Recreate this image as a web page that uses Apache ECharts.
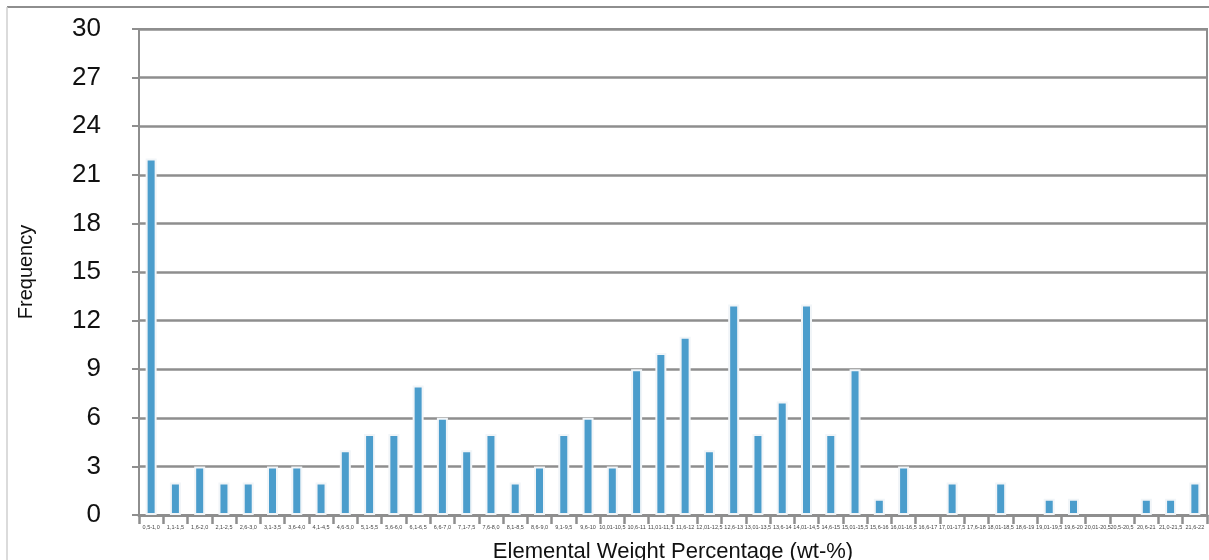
<!DOCTYPE html>
<html>
<head>
<meta charset="utf-8">
<script src="https://cdn.jsdelivr.net/npm/echarts@6/dist/echarts.min.js"></script>
<style>
  html, body { margin: 0; padding: 0; background: #ffffff; }
  #chart { width: 1209px; height: 560px; }
</style>
</head>
<body>
<div id="chart"></div>
<script>
// Weight-percentage bins (comma decimal notation)
const binLabels = [
  '0,5-1,0', '1,1-1,5', '1,6-2,0', '2,1-2,5', '2,6-3,0', '3,1-3,5', '3,6-4,0', '4,1-4,5',
  '4,6-5,0', '5,1-5,5', '5,6-6,0', '6,1-6,5', '6,6-7,0', '7,1-7,5', '7,6-8,0', '8,1-8,5',
  '8,6-9,0', '9,1-9,5', '9,6-10', '10,01-10,5', '10,6-11', '11,01-11,5', '11,6-12', '12,01-12,5',
  '12,6-13', '13,01-13,5', '13,6-14', '14,01-14,5', '14,6-15', '15,01-15,5', '15,6-16', '16,01-16,5',
  '16,6-17', '17,01-17,5', '17,6-18', '18,01-18,5', '18,6-19', '19,01-19,5', '19,6-20', '20,01-20,5',
  '20,5-20,5', '20,6-21', '21,0-21,5', '21,6-22'
];

// Number of samples in each bin
const frequency = [
  22, 2, 3, 2, 2, 3, 3, 2,
  4, 5, 5, 8, 6, 4, 5, 2,
  3, 5, 6, 3, 9, 10, 11, 4,
  13, 5, 7, 13, 5, 9, 1, 3,
  0, 2, 0, 2, 0, 1, 1, 0,
  0, 1, 1, 2
];

// Frequency axis
const yMin = 0;
const yMax = 30;
const yStep = 3;

const gridGray = '#8e8e8e';
const font = '"Liberation Sans", Arial, Helvetica, sans-serif';

// Empty bins get no outline so nothing shows on the baseline
const barData = frequency.map(v => v === 0
  ? { value: v, itemStyle: { borderWidth: 0, opacity: 0 } }
  : v);

const chart = echarts.init(document.getElementById('chart'), null, { renderer: 'canvas' });

chart.setOption({
  animation: false,
  backgroundColor: '#ffffff',
  graphic: [
    // outer frame
    { type: 'line', shape: { x1: 7, y1: 7, x2: 1209, y2: 7 }, style: { stroke: '#8e8e8e', lineWidth: 2 }, silent: true },
    { type: 'line', shape: { x1: 7, y1: 7, x2: 7, y2: 560 }, style: { stroke: '#cfcfcf', lineWidth: 1.5 }, silent: true }
  ],
  grid: {
    left: 139,
    right: 2,
    top: 29,
    bottom: 45,
    show: true,
    borderColor: gridGray,
    borderWidth: 2,
    containLabel: false,
    outerBoundsMode: 'none'
  },
  xAxis: {
    type: 'category',
    data: binLabels,
    boundaryGap: true,
    name: 'Elemental Weight Percentage (wt-%)',
    nameLocation: 'middle',
    nameGap: 26,
    nameTextStyle: { fontFamily: font, fontSize: 22, color: '#111' },
    axisLine: { show: true, lineStyle: { color: gridGray, width: 3 } },
    axisTick: { show: true, length: 9, interval: 0, lineStyle: { color: gridGray, width: 2.5 } },
    axisLabel: {
      interval: 0,
      fontFamily: font,
      fontSize: 5.5,
      color: '#444',
      margin: 9,
      hideOverlap: false
    },
    splitLine: { show: false }
  },
  yAxis: {
    type: 'value',
    min: yMin,
    max: yMax,
    interval: yStep,
    name: 'Frequency',
    nameLocation: 'middle',
    nameGap: 103,
    nameRotate: 90,
    nameTextStyle: { fontFamily: font, fontSize: 20, color: '#111' },
    axisLine: { show: true, lineStyle: { color: gridGray, width: 2 } },
    axisTick: { show: true, length: 7, lineStyle: { color: gridGray, width: 2 } },
    axisLabel: {
      fontFamily: font,
      fontSize: 26,
      color: '#111',
      margin: 38,
      padding: [9, 0, 0, 0]
    },
    splitLine: { show: true, lineStyle: { color: gridGray, width: 2.5 } }
  },
  series: [{
    type: 'bar',
    data: barData,
    barWidth: 11,
    itemStyle: {
      color: '#4b9dcc',
      borderColor: '#f1f5f8',
      borderWidth: 2
    },
    silent: true
  }]
});
</script>
</body>
</html>
